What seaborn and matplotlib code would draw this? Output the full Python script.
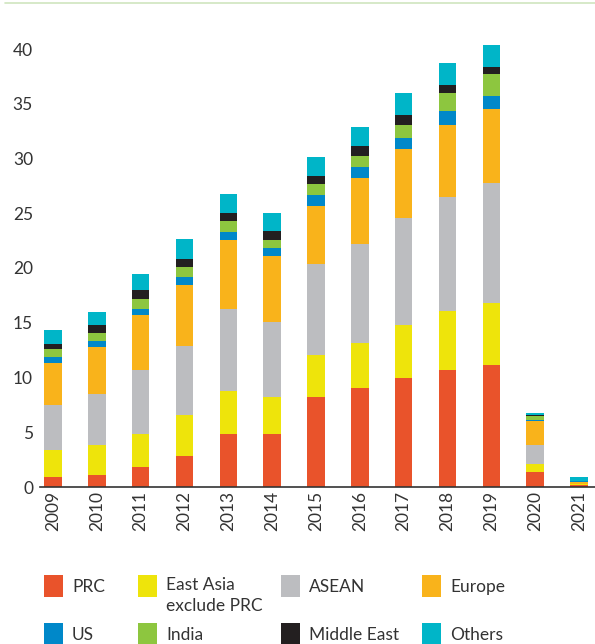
import seaborn as sns
import matplotlib.pyplot as plt
import numpy as np
from matplotlib.patches import Rectangle
from matplotlib.lines import Line2D

years = ['2009', '2010', '2011', '2012', '2013', '2014', '2015',
         '2016', '2017', '2018', '2019', '2020', '2021']
prc = [0.9, 1.1, 1.85, 2.85, 4.8, 4.8, 8.25, 9.0, 9.95, 10.65, 11.15, 1.4, 0.15]
east_asia = [2.5, 2.7, 2.95, 3.7, 3.95, 3.4, 3.85, 4.15, 4.85, 5.4, 5.65, 0.7, 0.1]
asean = [4.1, 4.65, 5.85, 6.3, 7.5, 6.85, 8.3, 9.0, 9.75, 10.45, 11.0, 1.75, 0.05]
europe = [3.85, 4.35, 5.1, 5.6, 6.35, 6.05, 5.3, 6.1, 6.35, 6.6, 6.75, 2.2, 0.2]
us = [0.5, 0.5, 0.5, 0.75, 0.7, 0.75, 0.95, 0.95, 0.95, 1.2, 1.2, 0.05, 0.02]
india = [0.75, 0.75, 0.95, 0.9, 0.95, 0.75, 1.0, 1.0, 1.2, 1.7, 1.95, 0.4, 0.05]
middle_east = [0.45, 0.7, 0.75, 0.75, 0.75, 0.75, 0.75, 0.95, 0.95, 0.75, 0.7, 0.05, 0.02]
others = [1.25, 1.2, 1.5, 1.8, 1.75, 1.7, 1.7, 1.75, 2.0, 2.0, 2.0, 0.25, 0.3]

series = [
    ("PRC", prc, "#E9532B"),
    ("East Asia\nexclude PRC", east_asia, "#EEE40B"),
    ("ASEAN", asean, "#BCBDC0"),
    ("Europe", europe, "#F9B31B"),
    ("US", us, "#0088C9"),
    ("India", india, "#8DC63F"),
    ("Middle East", middle_east, "#231F20"),
    ("Others", others, "#00B5C8"),
]

sns.set_style("white")
plt.rcParams['font.family'] = ['Lato', 'DejaVu Sans']
txt_color = "#333333"

W, H = 595, 644
fig = plt.figure(figsize=(W / 100, H / 100), dpi=100)
# axes: left edge 40px, zero line at y=487px, 10.95 px per unit
ymax = 42
ax = fig.add_axes([40 / W, (H - 487) / H, (W - 40) / W, ymax * 10.95 / H])

bottom = np.zeros(len(years))
for name, vals, col in series:
    sns.barplot(x=years, y=vals, bottom=bottom, color=col, width=0.4,
                saturation=1, linewidth=0, ax=ax)
    bottom = bottom + np.array(vals)

ax.set_ylim(0, ymax)
ax.set_xlim(-0.297, 12.365)
ax.set_yticks(range(0, 41, 5))
ax.tick_params(axis='y', length=0, pad=5, labelsize=12.5, labelcolor=txt_color)
ax.tick_params(axis='x', length=0, pad=3, labelsize=12.5, labelcolor=txt_color,
               rotation=90)
for s in ['top', 'right', 'left']:
    ax.spines[s].set_visible(False)
ax.spines['bottom'].set_color(txt_color)
ax.spines['bottom'].set_linewidth(1.2)
ax.set_xlabel("")
ax.set_ylabel("")

# thin green rule at top
fig.add_artist(Line2D([5 / W, 1], [1 - 3 / H, 1 - 3 / H], color="#cfe5bf",
                      lw=1.2, transform=fig.transFigure))

# legend drawn by hand, 4 columns x 2 rows
col_x = [44, 138, 281, 422]
row_top = [575, 623]
for i, (name, vals, col) in enumerate(series):
    r, c = divmod(i, 4)
    x0, y0 = col_x[c], row_top[r]
    fig.add_artist(Rectangle((x0 / W, 1 - (y0 + 21.5) / H), 19 / W, 21.5 / H,
                             facecolor=col, edgecolor='none',
                             transform=fig.transFigure))
    ty = y0 + 12
    va = 'center'
    ls = 1.2
    if "\n" in name:
        ty = y0 + 2
        va = 'top'
        ls = 1.42
    fig.text((x0 + 28) / W, 1 - ty / H, name, fontsize=12.5, color=txt_color,
             va=va, ha='left', linespacing=ls)

fig.savefig("out.png", dpi=100)
